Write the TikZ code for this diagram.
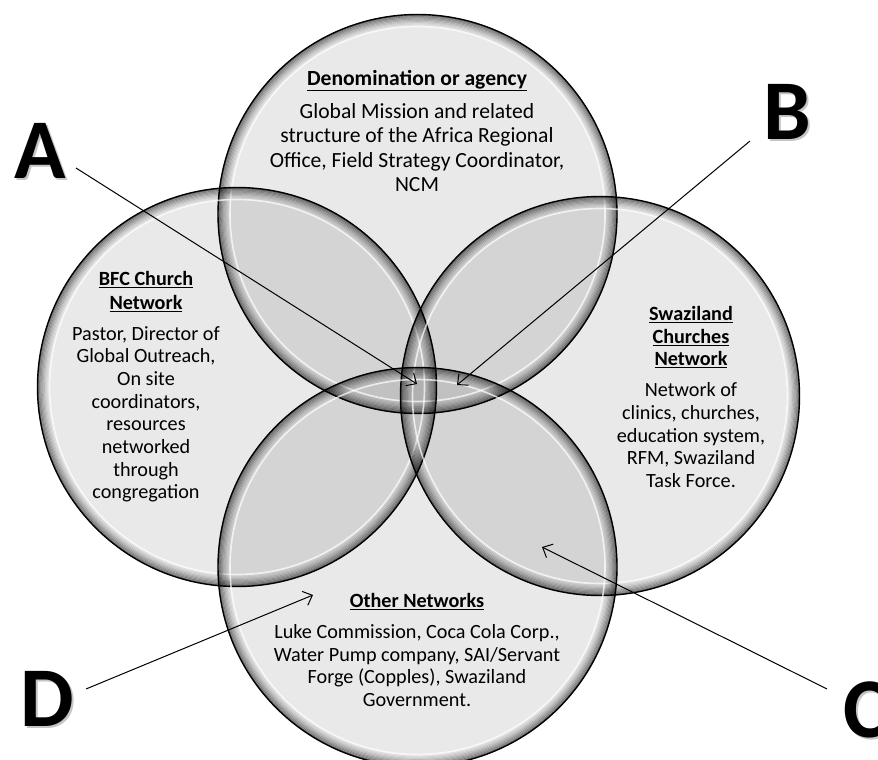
\documentclass[tikz,border=0pt]{standalone}
\usepackage{fontspec}
\setmainfont{Carlito}
\usetikzlibrary{arrows.meta}
\tikzset{
  venn/.style={circle, minimum size=400pt, inner sep=0pt, fill=black, fill opacity=0.085, draw=none},
  txt/.style={align=center, inner sep=0pt, text=black, font=\fontsize{20.2}{22.7}\selectfont},
  bigletter/.style={inner sep=0pt, font=\fontsize{85}{90}\selectfont\bfseries},
  shadowletter/.style={bigletter, text=black!45, opacity=0.5},
  arr/.style={line width=1pt, -{Straight Barb[length=8pt,width=15pt,line width=1pt]}}
}
\newcommand{\hd}[1]{\textbf{\underline{#1}}}
\begin{document}
\begin{tikzpicture}[x=1pt,y=-1pt]
\useasboundingbox (0,0) rectangle (878,760);
\clip (0,0) rectangle (878,760);
\fill[white] (0,0) rectangle (878,760);
% circles
\node[venn] (ctop) at (417.5,214) {};
\node[venn] (cleft) at (237,387) {};
\node[venn] (cright) at (600,396) {};
\node[venn] (cbot) at (417.5,567) {};
\foreach \n in {ctop,cleft,cright,cbot}{
  \foreach \k [evaluate=\k as \op using {0.42*(1-\k/10)^1.5}, evaluate=\k as \rr using {199-1.2*\k}] in {0,...,9}{
    \draw[black, line width=1.5pt, draw opacity=\op] (\n.center) circle (\rr pt);
  }
  \draw[white, line width=1.6pt, draw opacity=0.7] (\n.center) circle (187.5pt);
  \draw[black, line width=1.4pt] (\n.center) circle (199.5pt);
}
% texts
\node[txt, font=\fontsize{21.6}{24.5}\selectfont] (ttop) at (417,131)
  {\hd{Denomination or agency}\\[8.5pt]Global Mission and related\\structure of the Africa Regional\\Office, Field Strategy Coordinator,\\NCM};
\node[txt] (tleft) at (146,387)
  {\hd{BFC Church}\\[1.4pt]\hd{Network}\\[7.5pt]Pastor, Director of\\Global Outreach,\\On site\\coordinators,\\resources\\networked\\through\\congregation};
\node[txt] (tright) at (691,397)
  {\hd{Swaziland}\\\hd{Churches}\\\hd{Network}\\[8pt]Network of\\clinics, churches,\\education system,\\RFM, Swaziland\\Task Force.};
\node[txt] (tbot) at (417,650)
  {\hd{Other Networks}\\[8.5pt]Luke Commission, Coca Cola Corp.,\\Water Pump company, SAI/Servant\\Forge (Copples), Swaziland\\Government.};
% letters
\node[shadowletter] at (42,153) {A};
\node[bigletter] (A) at (40,151) {A};
\node[shadowletter] at (789,114) {B};
\node[bigletter] (B) at (787,112) {B};
\node[shadowletter] at (868,712) {C};
\node[bigletter] (C) at (866,710) {C};
\node[shadowletter] at (49,701) {D};
\node[bigletter] (D) at (47,699) {D};
% arrows
\coordinate (As) at (76,168);
\coordinate (Ae) at (417,384);
\coordinate (Bs) at (750,141);
\coordinate (Be) at (457,385);
\coordinate (Cs) at (827,689);
\coordinate (Ce) at (542,547);
\coordinate (Ds) at (86,689);
\coordinate (De) at (313,595);
\draw[arr] (As) -- (Ae);
\draw[arr] (Bs) -- (Be);
\draw[arr] (Cs) -- (Ce);
\draw[arr] (Ds) -- (De);
\end{tikzpicture}
\end{document}
